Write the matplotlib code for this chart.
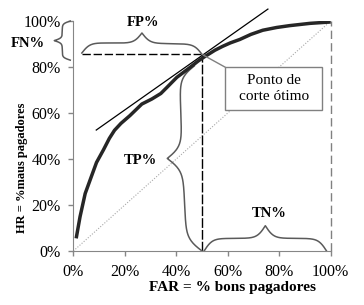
"""ROC-style curve with the optimal cut-off point and its confusion-matrix braces."""

import matplotlib as mpl
import matplotlib.pyplot as plt
import numpy as np
from matplotlib.patches import Rectangle
from matplotlib.ticker import PercentFormatter

mpl.rcParams.update(
    {
        "font.family": ["Liberation Serif", "DejaVu Serif"],
        "font.size": 11,
        "axes.spines.top": False,
        "axes.spines.right": False,
        "axes.edgecolor": "#868686",
        "xtick.color": "#868686",
        "ytick.color": "#868686",
        "xtick.labelcolor": "black",
        "ytick.labelcolor": "black",
    }
)

# ROC curve (FAR %, HR %)
far = [1.1, 2.6, 4.6, 7.2, 9.0, 11.7, 14.0, 16.0, 18.5, 22.0, 26.6, 30.5,
       34.0, 36.5, 40.2, 45.3, 48.6, 51.0, 55.0, 58.0, 61.0, 64.7, 69.0,
       73.6, 79.0, 84.0, 92.0, 100.0]
hr = [5.5, 14.9, 25.0, 33.0, 38.5, 44.0, 49.0, 52.5, 55.5, 58.9, 63.9, 66.1,
      68.5, 71.3, 75.5, 79.8, 82.7, 84.5, 87.3, 89.0, 90.5, 92.0, 94.2,
      96.0, 97.2, 98.0, 99.0, 99.6]

# tangent at the optimal cut-off
tangent_far = [8.9, 75.6]
tangent_hr = [52.6, 105.2]

cut_far = 50.0
cut_hr = 85.5

ticks = [0, 20, 40, 60, 80, 100]

DARK = "#262626"
GREY = "#5a5a5a"
LIGHT = "#808080"


def brace(ax, p0, p1, depth, beta=30.0):
    """Curly brace from p0 to p1 whose tip sits at depth (dx, dy) from the middle."""
    t = np.linspace(0, 0.5, 121)
    half = 1 / (1 + np.exp(-beta * t)) + 1 / (1 + np.exp(-beta * (t - 0.5))) - 0.5
    shape = np.concatenate([half, half[-2::-1]])
    s = np.linspace(0, 1, len(shape))
    xs = p0[0] + (p1[0] - p0[0]) * s + depth[0] * shape
    ys = p0[1] + (p1[1] - p0[1]) * s + depth[1] * shape
    ax.plot(xs, ys, color=GREY, lw=1.1, clip_on=False, zorder=2)


fig = plt.figure(figsize=(3.64, 3.05), dpi=100)
ax = fig.add_axes([0.2015, 0.177, 0.707, 0.754])

ax.plot([0, 100], [0, 100], color="#a8a8a8", lw=0.8, ls=(0, (1, 1.5)), zorder=1)
ax.plot([100, 100], [0, 100], color=LIGHT, lw=1.0, ls=(0, (6, 3)), clip_on=False)
ax.plot([cut_far, cut_far], [0, cut_hr], color="black", lw=1.0, ls=(0, (7, 1.5)))
ax.plot([3.3, cut_far], [cut_hr, cut_hr], color="black", lw=1.0, ls=(0, (6, 2)),
        clip_on=False)
ax.plot(tangent_far, tangent_hr, color="black", lw=0.9, clip_on=False, zorder=3)
ax.plot(far, hr, color=DARK, lw=2.5, solid_capstyle="butt", zorder=4)

# braces and their labels
brace(ax, (-1.2, 100), (-1.2, 83), (-6.2, 0))
brace(ax, (3.3, cut_hr + 0.6), (cut_far, cut_hr), (0, 9.0))
brace(ax, (47.0, 80.5), (50.0, 0), (-12.0, 0))
brace(ax, (50.8, 0), (98.4, 0), (0, 11.0))

label_kw = dict(fontsize=10.5, fontweight="bold", ha="center", va="center")
ax.text(-17.8, 90.4, "FN%", clip_on=False, **label_kw)
ax.text(27.1, 99.3, "FP%", clip_on=False, **label_kw)
ax.text(25.9, 39.3, "TP%", **label_kw)
ax.text(76.1, 16.4, "TN%", **label_kw)

# optimal cut-off call-out
ax.plot([cut_far, 58.9], [cut_hr, 80.0], color=LIGHT, lw=1.0, zorder=5)
ax.add_patch(Rectangle((58.9, 61.3), 37.7, 18.7, facecolor="white",
                       edgecolor=LIGHT, lw=1.0, zorder=5))
ax.text(77.8, 70.7, "Ponto de\ncorte ótimo", fontsize=11, ha="center",
        va="center", linespacing=1.25, zorder=6)

ax.set_xlim(0, 100)
ax.set_ylim(0, 100)
ax.set_xticks(ticks)
ax.set_yticks(ticks)
ax.xaxis.set_major_formatter(PercentFormatter(decimals=0))
ax.yaxis.set_major_formatter(PercentFormatter(decimals=0))
ax.tick_params(axis="both", direction="out", length=3.6, width=1.0, labelsize=11.5)
ax.tick_params(axis="x", pad=5.5)
ax.tick_params(axis="y", pad=5.5)

ax.set_xlabel("FAR = % bons pagadores", fontsize=11, fontweight="bold")
ax.xaxis.set_label_coords(0.618, -0.13)
ax.set_ylabel("HR = %maus pagadores", fontsize=9, fontweight="bold")
ax.yaxis.set_label_coords(-0.176, 0.361)

fig.savefig("out.png", dpi=100)
